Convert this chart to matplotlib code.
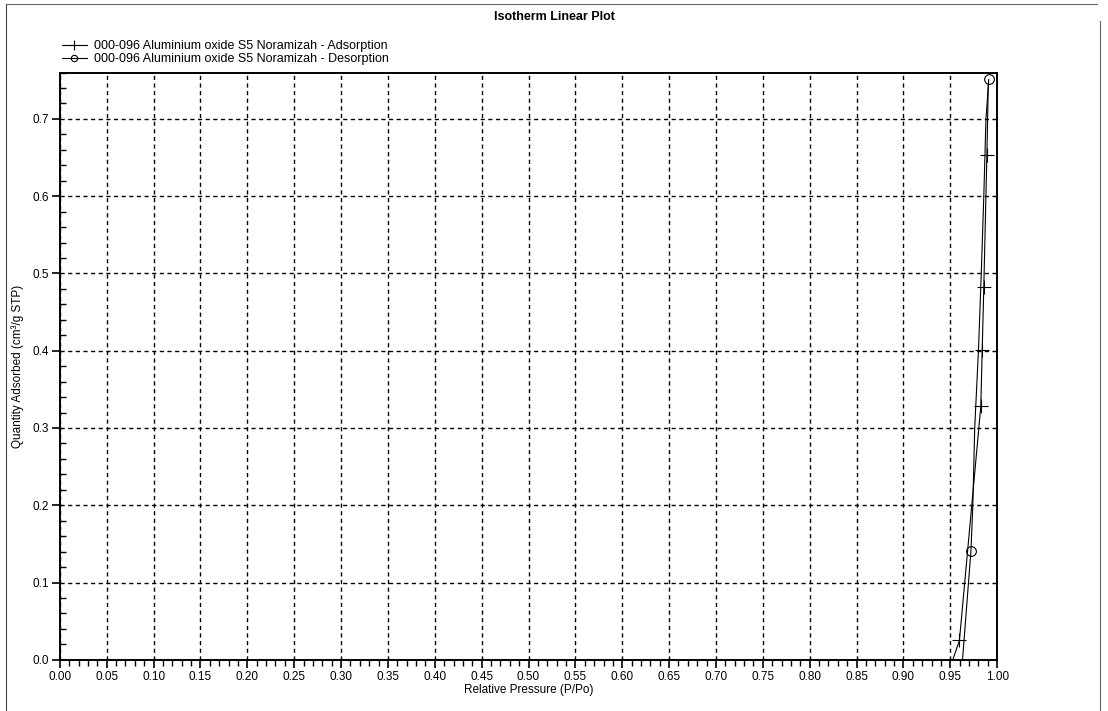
import matplotlib
matplotlib.use("Agg")
import matplotlib.pyplot as plt
from matplotlib.lines import Line2D
from matplotlib.ticker import MultipleLocator
import numpy as np

plt.rcParams['font.family'] = ['Liberation Sans', 'DejaVu Sans']

title = "Isotherm Linear Plot"
xlabel = "Relative Pressure (P/Po)"
ylabel = "Quantity Adsorbed (cm³/g STP)"
ads_label = "000-096 Aluminium oxide S5 Noramizah - Adsorption"
des_label = "000-096 Aluminium oxide S5 Noramizah - Desorption"

ads_p = [0.9526, 0.9597, 0.9825, 0.9840, 0.9857, 0.9890, 0.9905]
ads_q = [0.000, 0.025, 0.328, 0.401, 0.482, 0.653, 0.745]
ads_marks = [1, 2, 3, 4, 5]

des_p = [0.9910, 0.9880, 0.9857, 0.9830, 0.9800, 0.9760, 0.9740, 0.9720, 0.9630]
des_q = [0.751, 0.700, 0.600, 0.500, 0.400, 0.300, 0.200, 0.141, 0.000]
des_marks = [0, 7]

xticks = np.round(np.arange(0, 1.0001, 0.05), 2)
xticklabels = [f"{v:.2f}" for v in xticks]
yticks = np.round(np.arange(0, 0.7001, 0.1), 1)
yticklabels = [f"{v:.1f}" for v in yticks]

fig = plt.figure(figsize=(11.08, 7.11), dpi=100)
ax = fig.add_axes([0.054, 0.072, 0.846, 0.826])

ax.plot(ads_p, ads_q, color='black', lw=0.8, marker='+', markersize=10,
        markeredgewidth=0.8, markevery=ads_marks, label=ads_label)
ax.plot(des_p, des_q, color='black', lw=0.8, marker='o', markersize=7,
        markerfacecolor='none', markeredgewidth=0.8, markevery=des_marks,
        label=des_label)

ax.set_xlim(0, 1.0)
ax.set_ylim(0, 0.76)
ax.set_xticks(xticks)
ax.set_xticklabels(xticklabels, fontsize=8.5)
ax.set_yticks(yticks)
ax.set_yticklabels(yticklabels, fontsize=8.5)
ax.xaxis.set_minor_locator(MultipleLocator(0.01))
ax.yaxis.set_minor_locator(MultipleLocator(0.02))
ax.tick_params(axis='both', which='major', direction='out', length=6, width=1.2, pad=2)
ax.tick_params(axis='x', which='minor', direction='out', length=4, width=1.0)
ax.tick_params(axis='y', which='minor', direction='in', length=4, width=1.0)
ax.grid(True, which='major', color='black', linestyle=(0, (3, 2.5)), linewidth=1.0)

for s in ax.spines.values():
    s.set_linewidth(1.4)

ax.set_xlabel(xlabel, fontsize=8.5, labelpad=1)
ax.set_ylabel(ylabel, fontsize=8.5, labelpad=6)
fig.text(0.50, 0.985, title, ha='center', va='top', fontsize=9, fontweight='bold')

leg = ax.legend(loc='lower left', bbox_to_anchor=(-0.006, 1.0), frameon=False,
                fontsize=9, handlelength=2.0, borderaxespad=0.2,
                labelspacing=0.05, handletextpad=0.6, markerscale=0.65)

# scanned page frame
fig.add_artist(Line2D([0.005, 0.005], [0.0, 0.995], color='#444444', lw=0.8))
fig.add_artist(Line2D([0.005, 0.99], [0.995, 0.995], color='#666666', lw=0.8))
fig.add_artist(Line2D([0.993, 0.993], [0.0, 0.97], color='#666666', lw=0.8))

fig.savefig("out.png", dpi=100)
